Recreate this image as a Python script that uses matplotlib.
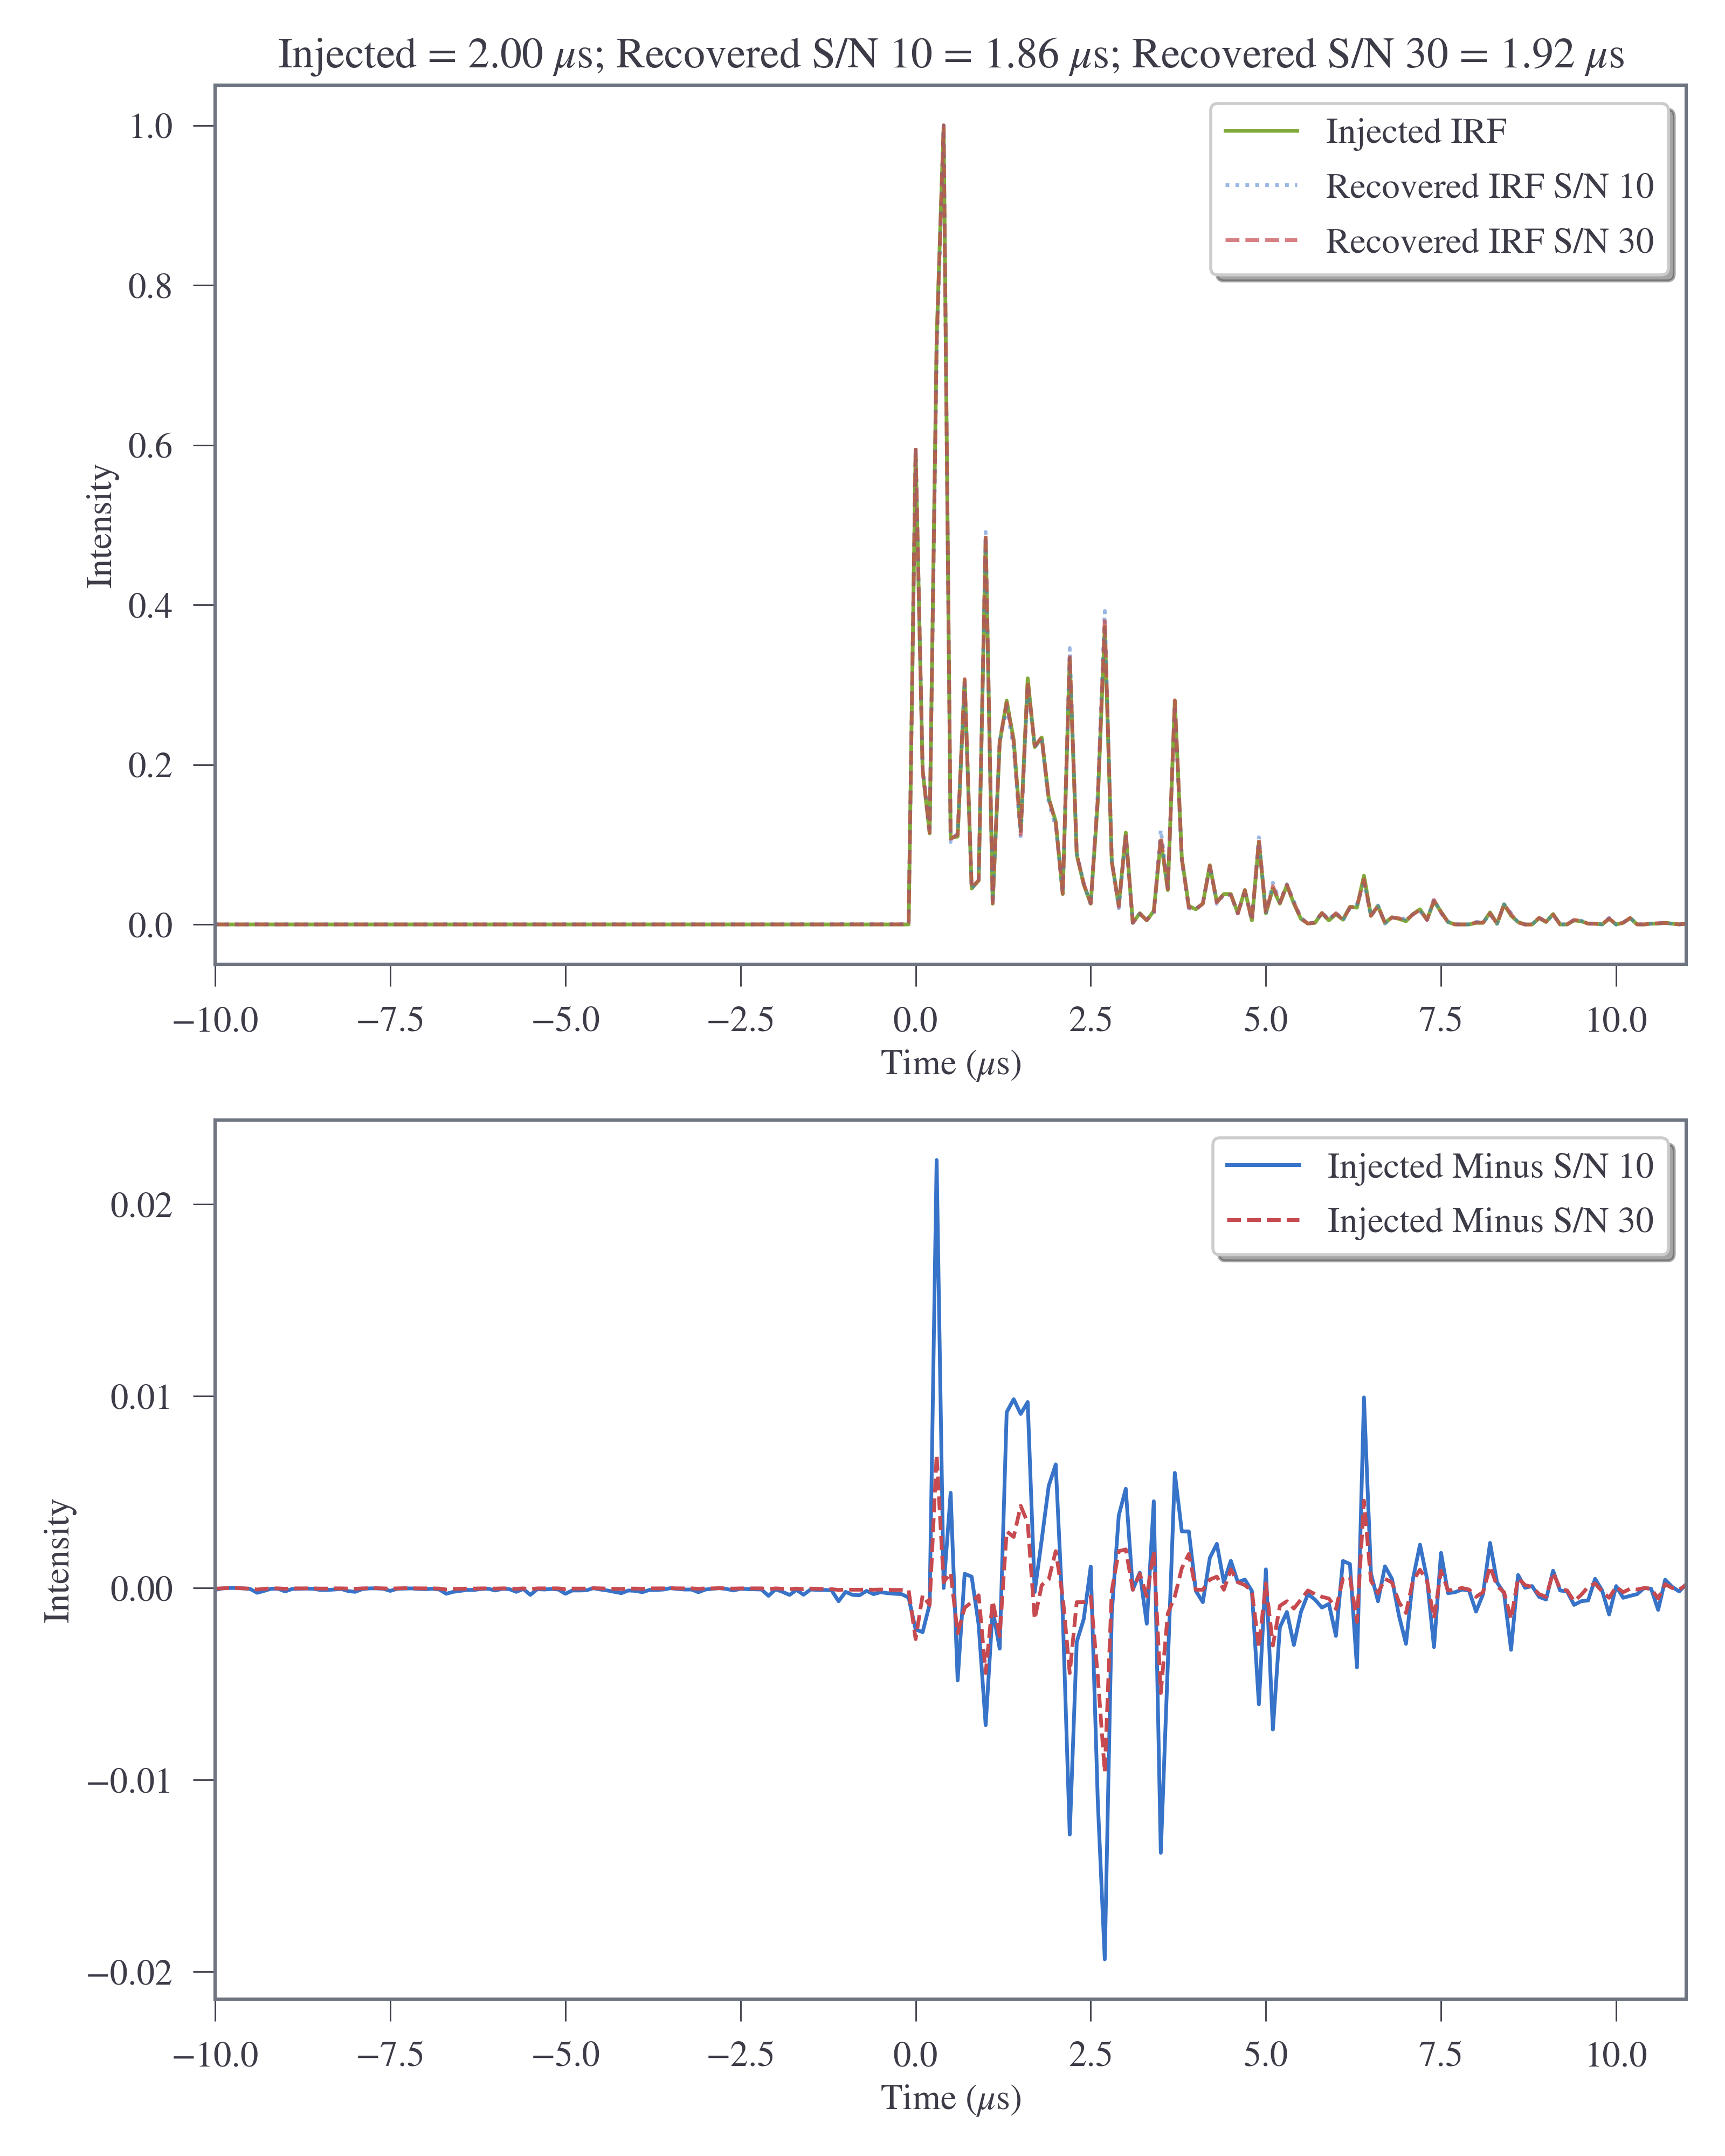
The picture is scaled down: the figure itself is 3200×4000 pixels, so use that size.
import numpy as np
import matplotlib
matplotlib.use("Agg")
from matplotlib import pyplot as plt

# sample times, 0.1 us grid from -10 to 11 us
time_us = np.arange(-100, 111) / 10.0

# injected IRF (normalised), t = -10.0 ... -0.1 is flat zero
injected_before = [
    0, 0, 0, 0, 0, 0, 0, 0, 0, 0, 0, 0, 0, 0, 0, 0, 0, 0, 0, 0,
    0, 0, 0, 0, 0, 0, 0, 0, 0, 0, 0, 0, 0, 0, 0, 0, 0, 0, 0, 0,
    0, 0, 0, 0, 0, 0, 0, 0, 0, 0, 0, 0, 0, 0, 0, 0, 0, 0, 0, 0,
    0, 0, 0, 0, 0, 0, 0, 0, 0, 0, 0, 0, 0, 0, 0, 0, 0, 0, 0, 0,
    0, 0, 0, 0, 0, 0, 0, 0, 0, 0, 0, 0, 0, 0, 0, 0, 0, 0, 0, 0,
]
# t = 0.0 ... 11.0
injected_after = [
    0.594, 0.193, 0.114, 0.733, 1.000, 0.108, 0.110, 0.306, 0.045, 0.055,
    0.484, 0.026, 0.227, 0.280, 0.231, 0.117, 0.308, 0.222, 0.234, 0.158,
    0.129, 0.038, 0.333, 0.087, 0.050, 0.026, 0.153, 0.373, 0.079, 0.024,
    0.115, 0.002, 0.014, 0.005, 0.017, 0.105, 0.043, 0.280, 0.083, 0.023,
    0.019, 0.026, 0.074, 0.028, 0.038, 0.038, 0.014, 0.043, 0.005, 0.103,
    0.014, 0.045, 0.026, 0.049, 0.026, 0.007, 0.001, 0.002, 0.014, 0.005,
    0.013, 0.006, 0.022, 0.021, 0.061, 0.011, 0.023, 0.002, 0.009, 0.007,
    0.004, 0.013, 0.019, 0.006, 0.029, 0.016, 0.003, 0.000, 0.000, 0.000,
    0.002, 0.002, 0.015, 0.001, 0.025, 0.011, 0.003, 0.000, 0.000, 0.008,
    0.003, 0.013, 0.000, 0.000, 0.005, 0.004, 0.001, 0.001, 0.000, 0.007,
    0.000, 0.002, 0.008, 0.000, 0.000, 0.001, 0.001, 0.002, 0.001, 0.000,
    0.001,
]

# injected minus recovered, S/N 10
minus_sn10_before = [
    -0.00010, -0.00002, 0.00000, 0.00000, -0.00002, -0.00005, -0.00025, -0.00015, -0.00004, -0.00004,
    -0.00018, -0.00005, -0.00004, -0.00003, -0.00004, -0.00010, -0.00010, -0.00008, -0.00005, -0.00016,
    -0.00020, -0.00006, -0.00002, -0.00002, -0.00004, -0.00015, -0.00004, -0.00003, -0.00002, -0.00005,
    -0.00006, -0.00004, -0.00008, -0.00030, -0.00020, -0.00015, -0.00010, -0.00010, -0.00005, -0.00004,
    -0.00013, -0.00004, -0.00006, -0.00020, -0.00005, -0.00036, -0.00006, -0.00008, -0.00005, -0.00008,
    -0.00030, -0.00013, -0.00013, -0.00012, -0.00001, -0.00008, -0.00013, -0.00020, -0.00027, -0.00013,
    -0.00015, -0.00022, -0.00010, -0.00010, -0.00008, -0.00001, -0.00005, -0.00008, -0.00008, -0.00022,
    -0.00008, -0.00004, -0.00001, -0.00005, -0.00013, -0.00004, -0.00006, -0.00007, -0.00008, -0.00041,
    -0.00007, -0.00020, -0.00036, -0.00010, -0.00035, -0.00008, -0.00010, -0.00010, -0.00012, -0.00069,
    -0.00020, -0.00036, -0.00038, -0.00015, -0.00032, -0.00022, -0.00027, -0.00030, -0.00032, -0.00050,
]
minus_sn10_after = [
    -0.00216, -0.00230, -0.00085, 0.02230, 0.00000, 0.00496, -0.00482, 0.00074, 0.00059, -0.00192,
    -0.00715, -0.00112, -0.00316, 0.00916, 0.00984, 0.00907, 0.00969, -0.00021, 0.00251, 0.00532,
    0.00644, -0.00133, -0.01285, -0.00281, -0.00162, 0.00112, -0.01108, -0.01935, -0.00133, 0.00378,
    0.00517, -0.00009, 0.00080, -0.00186, 0.00452, -0.01380, -0.00399, 0.00600, 0.00295, 0.00295,
    -0.00015, -0.00074, 0.00157, 0.00230, 0.00030, 0.00142, 0.00030, 0.00044, -0.00015, -0.00606,
    0.00097, -0.00738, -0.00205, -0.00125, -0.00297, -0.00125, -0.00032, -0.00060, -0.00102, -0.00083,
    -0.00250, 0.00141, 0.00125, -0.00414, 0.00993, 0.00076, -0.00069, 0.00113, 0.00048, -0.00144,
    -0.00291, 0.00048, 0.00226, 0.00048, -0.00308, 0.00183, -0.00027, -0.00022, -0.00008, -0.00013,
    -0.00123, -0.00032, 0.00235, 0.00029, -0.00027, -0.00322, 0.00068, 0.00001, 0.00010, -0.00046,
    -0.00060, 0.00090, -0.00013, -0.00018, -0.00088, -0.00069, -0.00065, 0.00048, -0.00013, -0.00138,
    0.00010, -0.00051, -0.00041, -0.00032, 0.00000, -0.00004, -0.00114, 0.00043, 0.00006, -0.00018,
    0.00020,
]

# injected minus recovered, S/N 30
minus_sn30_before = [
    -0.00003, -0.00002, 0.00000, 0.00000, -0.00002, -0.00003, -0.00008, -0.00004, -0.00002, -0.00002,
    -0.00004, -0.00002, -0.00002, -0.00002, -0.00002, -0.00003, -0.00003, -0.00002, -0.00002, -0.00003,
    -0.00004, -0.00002, -0.00001, -0.00001, -0.00002, -0.00003, -0.00002, -0.00001, -0.00001, -0.00002,
    -0.00002, -0.00002, -0.00003, -0.00008, -0.00005, -0.00004, -0.00003, -0.00003, -0.00002, -0.00002,
    -0.00003, -0.00002, -0.00002, -0.00004, -0.00002, -0.00006, -0.00002, -0.00002, -0.00002, -0.00002,
    -0.00006, -0.00003, -0.00003, -0.00003, -0.00001, -0.00002, -0.00003, -0.00004, -0.00005, -0.00003,
    -0.00003, -0.00004, -0.00002, -0.00002, -0.00002, -0.00001, -0.00002, -0.00002, -0.00002, -0.00004,
    -0.00002, -0.00002, -0.00001, -0.00002, -0.00003, -0.00002, -0.00002, -0.00002, -0.00002, -0.00006,
    -0.00002, -0.00004, -0.00006, -0.00003, -0.00006, -0.00003, -0.00004, -0.00005, -0.00006, -0.00010,
    -0.00008, -0.00009, -0.00009, -0.00008, -0.00009, -0.00008, -0.00009, -0.00010, -0.00010, -0.00012,
]
minus_sn30_after = [
    -0.00266, -0.00038, -0.00089, 0.00694, 0.00030, 0.00080, -0.00236, -0.00103, -0.00074, -0.00038,
    -0.00443, -0.00068, -0.00251, 0.00295, 0.00266, 0.00428, 0.00340, -0.00162, 0.00015, 0.00044,
    0.00192, -0.00044, -0.00443, -0.00074, -0.00074, -0.00044, -0.00458, -0.00960, -0.00015, 0.00192,
    0.00201, -0.00009, 0.00074, -0.00044, 0.00192, -0.00547, -0.00133, -0.00044, 0.00103, 0.00177,
    -0.00009, -0.00009, 0.00044, 0.00059, -0.00009, 0.00097, 0.00030, 0.00015, -0.00015, -0.00310,
    0.00024, -0.00300, -0.00093, -0.00069, -0.00107, -0.00060, -0.00013, -0.00032, -0.00046, -0.00055,
    -0.00109, 0.00048, 0.00057, -0.00177, 0.00455, 0.00038, -0.00027, 0.00048, 0.00029, -0.00074,
    -0.00130, 0.00038, 0.00095, 0.00038, -0.00158, 0.00090, -0.00013, -0.00008, 0.00000, -0.00008,
    -0.00046, -0.00022, 0.00113, 0.00010, -0.00022, -0.00163, 0.00052, 0.00015, 0.00006, -0.00032,
    -0.00046, 0.00080, -0.00004, -0.00013, -0.00069, -0.00036, 0.00006, 0.00024, -0.00018, -0.00051,
    0.00006, -0.00022, -0.00004, -0.00008, 0.00000, -0.00004, -0.00055, 0.00020, 0.00000, -0.00008,
    0.00015,
]

injected_irf = np.array(injected_before + injected_after, dtype=float)
minus_sn10 = np.array(minus_sn10_before + minus_sn10_after)
minus_sn30 = np.array(minus_sn30_before + minus_sn30_after)
# recovered curves are what the lower panel subtracts from the injected one
recovered_sn10 = injected_irf - minus_sn10
recovered_sn30 = injected_irf - minus_sn30

title = (r"Injected = 2.00 $\mu$s; Recovered S/N 10 = 1.86 $\mu$s; "
         r"Recovered S/N 30 = 1.92 $\mu$s")

text_col = "#3c3c48"
plt.rcParams.update({
    "font.family": "STIXGeneral",
    "mathtext.fontset": "stix",
    "font.size": 12,
    "text.color": text_col,
    "axes.labelcolor": text_col,
    "axes.edgecolor": "#6e7580",
    "axes.linewidth": 1.1,
    "axes.labelpad": 3.0,
    "xtick.color": text_col,
    "ytick.color": text_col,
    "xtick.major.size": 7.4,
    "ytick.major.size": 7.4,
    "xtick.major.width": 0.5,
    "ytick.major.width": 0.5,
    "xtick.major.pad": 6.7,
    "ytick.major.pad": 6.7,
    "legend.edgecolor": "0.8",
    "legend.labelspacing": 0.6,
})

green = "#82aa3a"
blue = "#3773c8"
red = "#c64a50"

fig, (ax1, ax2) = plt.subplots(2, 1, figsize=(8, 10))
fig.subplots_adjust(left=0.1247, right=0.9775, top=0.9604, bottom=0.0727,
                    hspace=0.177)

ax1.plot(time_us, injected_irf, color=green, lw=1.25, label="Injected IRF")
ax1.plot(time_us, recovered_sn10, color=blue, lw=1.25, ls=":", alpha=0.5,
         label="Recovered IRF S/N 10")
ax1.plot(time_us, recovered_sn30, color=red, lw=1.25, ls="--", alpha=0.7,
         label="Recovered IRF S/N 30")
ax1.set_xlim(-10, 11)
ax1.set_xlabel(r"Time ($\mu$s)")
ax1.set_ylabel("Intensity")
ax1.set_title(title, fontsize=14.4)
ax1.legend(loc="upper right", shadow=True)

ax2.plot(time_us, minus_sn10, color=blue, lw=1.25, label="Injected Minus S/N 10")
ax2.plot(time_us, minus_sn30, color=red, lw=1.25, ls="--",
         label="Injected Minus S/N 30")
ax2.set_xlim(-10, 11)
ax2.set_xlabel(r"Time ($\mu$s)")
ax2.set_ylabel("Intensity")
ax2.legend(loc="upper right", shadow=True)

fig.savefig("out.png", dpi=400)
